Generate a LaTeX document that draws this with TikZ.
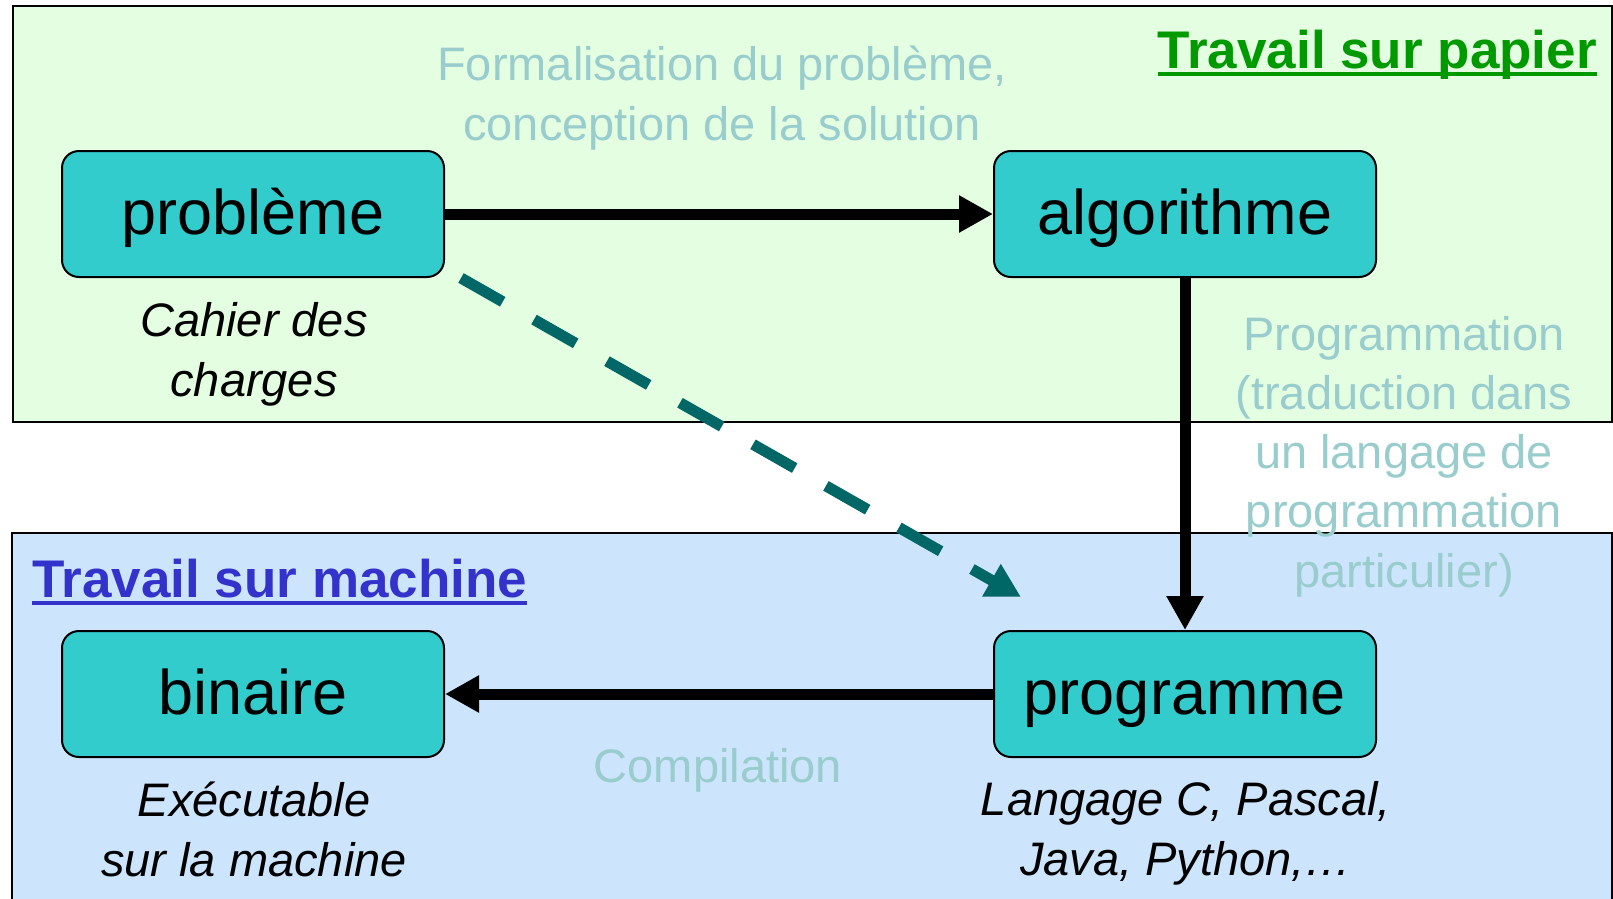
\documentclass[tikz,border=0pt]{standalone}
\usepackage{fontspec}
\setmainfont{Liberation Sans}
\usetikzlibrary{arrows.meta}
\definecolor{paperbg}{RGB}{228,254,226}
\definecolor{machbg}{RGB}{204,228,252}
\definecolor{boxfill}{RGB}{51,204,204}
\definecolor{labgray}{RGB}{153,204,204}
\definecolor{dashcol}{RGB}{0,102,102}
\definecolor{titlegreen}{RGB}{0,153,0}
\definecolor{titleblue}{RGB}{51,51,204}
\begin{document}
\begin{tikzpicture}[x=1pt,y=-1pt,
  stepbox/.style={draw=black, line width=2pt, fill=boxfill, rounded corners=17pt,
    minimum width=382pt, minimum height=126pt, inner sep=0pt,
    font=\fontsize{63}{75}\selectfont, text height=50pt, text depth=10pt},
  flow/.style={line width=11pt, -{Triangle[length=34pt,width=35pt]}},
  dasharrow/.style={draw=dashcol, line width=11pt, dash pattern=on 48pt off 36pt,
    -{Triangle[length=34pt,width=35pt]}},
  lab/.style={text=labgray, inner sep=0pt, align=center, anchor=base,
    font=\fontsize{47}{59.5}\selectfont},
  note/.style={text=black, inner sep=0pt, align=center, anchor=base,
    font=\fontsize{47}{60}\selectfont\itshape},
  title/.style={inner sep=0pt, font=\fontsize{53}{60}\selectfont\bfseries},
]
\useasboundingbox (0,0) rectangle (1613,898);
\clip (0,0) rectangle (1613,898);
\fill[white] (0,0) rectangle (1613,898);
% zones
\draw[fill=paperbg, line width=2pt] (12.5,5.5) rectangle (1612,421.5);
\draw[fill=machbg, line width=2pt] (12,533) rectangle (1612,930);
% titles
\node[title, text=titlegreen, anchor=base east] (tpap) at (1597,68) {Travail sur papier};
\draw[titlegreen, line width=4pt] ([yshift=-6pt]tpap.base west) -- ([yshift=-6pt]tpap.base east);
\node[title, text=titleblue, anchor=base west] (tmach) at (32,597) {Travail sur machine};
\draw[titleblue, line width=4pt] ([yshift=-6pt]tmach.base west) -- ([yshift=-6pt]tmach.base east);
% boxes
\node[stepbox] (prob) at (253,214) {problème};
\node[stepbox] (algo) at (1185,214) {algorithme};
\node[stepbox] (bin) at (253,694) {binaire};
\node[stepbox] (prog) at (1185,694) {programme};
% labels (base anchor = baseline of the last line)
\node[lab] (lform) at (722,140) {Formalisation du problème,\\conception de la solution};
\node[lab, font=\fontsize{47}{59.25}\selectfont] (lprog) at (1404,587) {Programmation\\(traduction dans\\un langage de\\programmation\\particulier)};
\node[lab] (lcomp) at (718,782) {Compilation};
\node[note] (ncah) at (254,396) {Cahier des\\charges};
\node[note] (nexe) at (254,876) {Exécutable\\sur la machine};
\node[note] (nlang) at (1186,875) {Langage C, Pascal,\\Java, Python,…};
% connectors
\draw[flow] (prob.east) -- (algo.west);
\draw[flow] (algo.south) -- (prog.north);
\draw[flow] (prog.west) -- (bin.east);
\coordinate (dtip) at (1021,597);
\draw[dasharrow] ([xshift=16pt]prob.south east) -- (dtip);
\end{tikzpicture}
\end{document}
